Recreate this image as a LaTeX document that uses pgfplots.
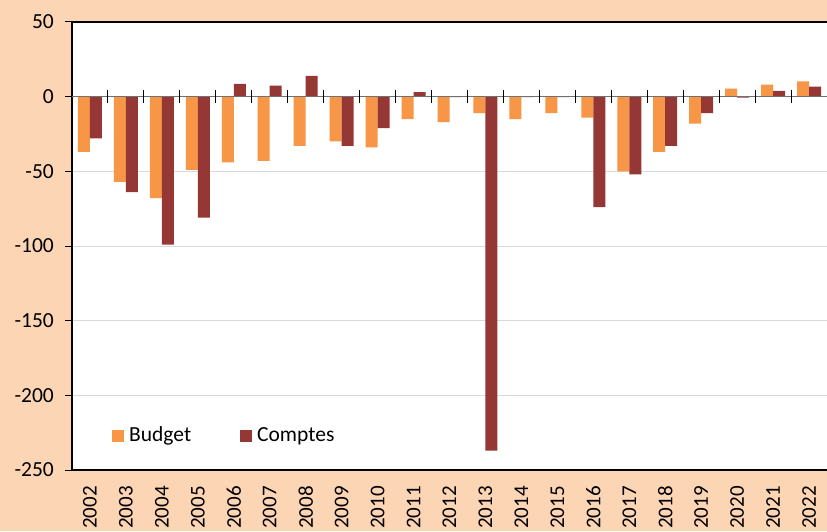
\documentclass[border=0pt]{standalone}
\usepackage{pgfplots}
\pgfplotsset{compat=1.18}
\usepackage{fontspec}
\setmainfont{Carlito}
\definecolor{peach}{HTML}{FCD5B5}
\definecolor{budget}{HTML}{F79646}
\definecolor{comptes}{HTML}{953735}
\definecolor{gridc}{HTML}{D9D9D9}
\definecolor{zeroc}{HTML}{707070}
\begin{document}
\fontsize{21}{25}\selectfont
\begin{tikzpicture}
\fill[peach] (-72pt,-61pt) rectangle (755pt,470pt);
\useasboundingbox (-72pt,-61pt) rectangle (755pt,470pt);
\begin{axis}[
  at={(0pt,0pt)}, anchor=south west,
  scale only axis, width=755pt, height=448pt,
  xmin=-0.5, xmax=20.5, ymin=-250, ymax=50,
  axis x line*=box, axis y line*=left,
  axis line style={line width=2pt, black, -},
  axis background/.style={fill=white},
  ybar=0pt, bar width=12pt,
  ytick={-250,-200,...,50},
  xtick={0,...,20},
  xticklabels={2002,2003,2004,2005,2006,2007,2008,2009,2010,2011,2012,2013,2014,2015,2016,2017,2018,2019,2020,2021,2022},
  x tick style={draw=none},
  y tick style={black, line width=1pt},
  tick align=outside, major tick length=7pt,
  ymajorgrids, grid style={gridc, line width=1pt},
  /pgf/number format/assume math mode=true,
  tick label style={font=\fontsize{21.5}{25}\selectfont},
  xticklabel style={rotate=90, anchor=east, font=\fontsize{21}{25}\selectfont},
  xticklabel shift=2pt,
  yticklabel shift=4pt,
  legend style={at={(0.049,0.076)}, anchor=west, draw=none, fill=none,
    font=\fontsize{21.5}{25}\selectfont,
    /tikz/every even column/.append style={column sep=47pt}},
  legend columns=2,
  legend image code/.code={\fill[#1] (0pt,-6pt) rectangle (12pt,6pt); \path (15pt,0pt);},
]
\addplot[fill=budget, draw=none] coordinates {
(0,-37) (1,-57) (2,-68) (3,-49) (4,-44) (5,-43) (6,-33) (7,-30) (8,-34) (9,-15)
(10,-17) (11,-11) (12,-15) (13,-11) (14,-14) (15,-50) (16,-37) (17,-18) (18,5.4) (19,8) (20,10.3)};
\addlegendentry{Budget}
\addplot[fill=comptes, draw=none] coordinates {
(0,-28) (1,-64) (2,-99) (3,-81) (4,8.5) (5,7.4) (6,14) (7,-33) (8,-21) (9,3)
(10,-0.3) (11,-237) (12,-0.3) (13,-0.3) (14,-74) (15,-52) (16,-33) (17,-11) (18,-0.7) (19,3.8) (20,6.7)};
\addlegendentry{Comptes}
\draw[zeroc, line width=1.3pt] (axis cs:-0.5,0) -- (axis cs:20.5,0);
\pgfplotsinvokeforeach{0.5,1.5,2.5,3.5,4.5,5.5,6.5,7.5,8.5,9.5,10.5,11.5,12.5,13.5,14.5,15.5,16.5,17.5,18.5,19.5}{
  \draw[black,line width=1pt] (axis cs:#1,-4.2) -- (axis cs:#1,4.2);}
\end{axis}
\end{tikzpicture}
\end{document}
